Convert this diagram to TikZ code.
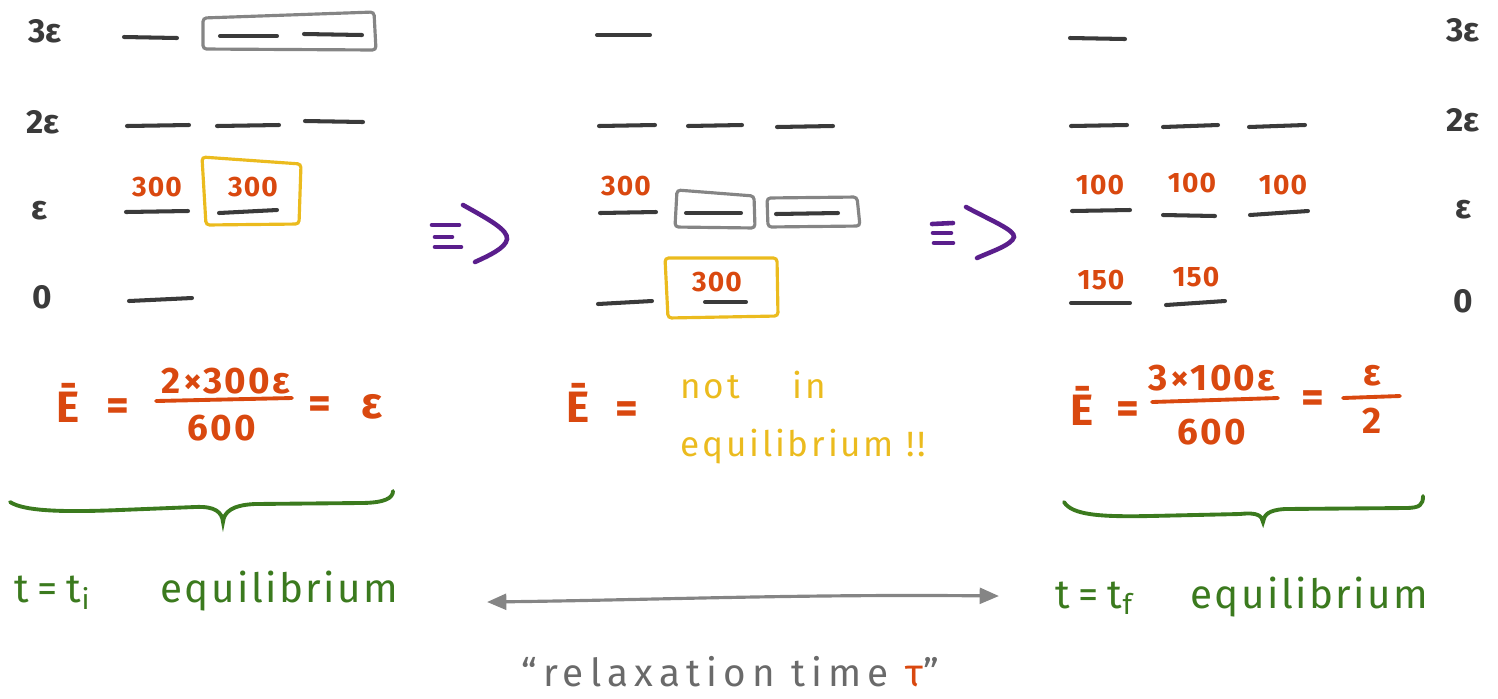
\documentclass[tikz,border=0pt]{standalone}
\usepackage{fontspec}
\setmainfont{Fira Sans}
\usetikzlibrary{arrows.meta}
\definecolor{lev}{HTML}{3A3A3A}
\definecolor{org}{HTML}{D9480F}
\definecolor{ylw}{HTML}{EBBB1E}
\definecolor{gbox}{HTML}{858585}
\definecolor{prp}{HTML}{5A1E8C}
\definecolor{grn}{HTML}{3B7A1E}
\definecolor{gtxt}{HTML}{6A6A6A}
\tikzset{
  lvl/.style={draw=lev, line width=2.3pt, line cap=round},
  graybox/.style={draw=gbox, line width=1.8pt, rounded corners=2pt},
  ylwbox/.style={draw=ylw, line width=1.8pt, rounded corners=2pt},
  lbl/.style={text=lev, font=\bfseries\fontsize{19}{21}\selectfont, inner sep=0pt},
  pop/.style={text=org, font=\bfseries\fontsize{16}{18}\selectfont\addfontfeatures{LetterSpace=4}, inner sep=0pt},
  eq/.style={text=org, font=\bfseries\fontsize{25}{28}\selectfont, inner sep=0pt},
  eqs/.style={text=org, font=\bfseries\fontsize{21}{24}\selectfont\addfontfeatures{LetterSpace=6}, inner sep=0pt},
  bar/.style={draw=org, line width=2.2pt, line cap=round},
  imp/.style={draw=prp, line width=2.6pt, line cap=round},
  brace/.style={draw=grn, line width=2.2pt, line cap=round},
  gtext/.style={text=grn, font=\fontsize{23}{27}\selectfont\addfontfeatures{LetterSpace=6}, inner sep=0pt, anchor=base west},
  ttext/.style={text=grn, font=\fontsize{23}{27}\selectfont\addfontfeatures{LetterSpace=22}, inner sep=0pt, anchor=base west},
  ytext/.style={text=ylw, font=\fontsize{20}{24}\selectfont\addfontfeatures{LetterSpace=8}, inner sep=0pt, anchor=west},
}
\begin{document}
\begin{tikzpicture}[x=0.02cm, y=-0.02cm]
\useasboundingbox (0,0) rectangle (1498,698);

% ---------- level labels ----------
\node[lbl] (l3) at (45,31) {3ε};
\node[lbl] (l2) at (43,122) {2ε};
\node[lbl] (l1) at (40,211) {ε};
\node[lbl] (l0) at (42,297) {0};
\node[lbl] (r3) at (1463,30) {3ε};
\node[lbl] (r2) at (1463,120) {2ε};
\node[lbl] (r1) at (1463,210) {ε};
\node[lbl] (r0) at (1463,301) {0};

% ---------- left panel ----------
\draw[lvl] (124,37) -- (177,38);
\draw[graybox] (203,18) -- (374,12) -- (376,50) -- (203,49) -- cycle;
\draw[lvl] (220,36) -- (277,36);
\draw[lvl] (304,34) -- (362,35);
\draw[lvl] (127,126) -- (189,125);
\draw[lvl] (217,126) -- (279,125);
\draw[lvl] (305,121) -- (363,122);
\draw[lvl] (126,212) -- (188,211);
\draw[lvl] (219,213) -- (277,210);
\draw[ylwbox] (202,157) -- (301,164) -- (299,224) -- (206,225) -- cycle;
\node[pop] (p1) at (157,187) {300};
\node[pop] (p2) at (253,187) {300};
\draw[lvl] (129,301) -- (192,298);

% ---------- implies arrows ----------
\draw[imp] (432,225) -- (459,225);
\draw[imp] (435,237) -- (452,237);
\draw[imp] (435,247) -- (461,247);
\draw[imp] (463,205) .. controls (490,220) and (508,230) .. (507,239) .. controls (506,248) and (488,256) .. (475,262);
\draw[imp] (932,224) -- (953,223);
\draw[imp] (933,233) -- (951,233);
\draw[imp] (934,243) -- (953,243);
\draw[imp] (966,207) .. controls (990,220) and (1015,230) .. (1014,237) .. controls (1012,245) and (990,252) .. (977,258);

% ---------- middle panel ----------
\draw[lvl] (597,35) -- (650,35);
\draw[lvl] (599,126) -- (655,125);
\draw[lvl] (688,126) -- (742,125);
\draw[lvl] (777,127) -- (833,126);
\node[pop] (p3) at (626,186) {300};
\draw[lvl] (600,213) -- (656,212);
\draw[graybox] (677,190) -- (754,196) -- (755,228) -- (675,227) -- cycle;
\draw[lvl] (686,213) -- (741,213);
\draw[graybox] (767,198) -- (857,197) -- (860,226) -- (768,227) -- cycle;
\draw[lvl] (776,214) -- (838,213);
\draw[lvl] (598,304) -- (652,301);
\draw[ylwbox] (665,258) -- (777,258) -- (778,316) -- (668,318) -- cycle;
\node[pop] (p4) at (717,282) {300};
\draw[lvl] (705,302) -- (746,302);

% ---------- right panel ----------
\draw[lvl] (1070,38) -- (1125,39);
\draw[lvl] (1071,126) -- (1127,125);
\draw[lvl] (1163,127) -- (1218,125);
\draw[lvl] (1249,127) -- (1305,125);
\node[pop] (p5) at (1100,185) {100};
\node[pop] (p6) at (1192,183) {100};
\node[pop] (p7) at (1283,185) {100};
\draw[lvl] (1072,211) -- (1130,210);
\draw[lvl] (1163,215) -- (1215,216);
\draw[lvl] (1250,215) -- (1308,211);
\node[pop] (p8) at (1101,280) {150};
\node[pop] (p9) at (1196,277) {150};
\draw[lvl] (1071,303) -- (1130,303);
\draw[lvl] (1166,305) -- (1225,301);

% ---------- equations ----------
\node[eq] (e1) at (68,403) {Ē};
\node[eq] (q1) at (118,410) {=};
\node[eqs] (n1) at (226,381) {2×300ε};
\draw[bar] (156,401) -- (292,398);
\node[eqs] (d1) at (222,428) {600};
\node[eq] (q2) at (320,408) {=};
\node[eq] (v1) at (372,407) {ε};

\node[eq] (e2) at (578,403) {Ē};
\node[eq] (q3) at (627,413) {=};
\node[ytext] (y1) at (680,385) {not\hspace{1.5em}in};
\node[ytext] (y2) at (680,447) {equilibrium !!};

\node[eq] (e3) at (1082,406) {Ē};
\node[eq] (q4) at (1128,413) {=};
\node[eqs] (n3) at (1212,378) {3×100ε};
\draw[bar] (1152,402) -- (1278,398);
\node[eqs] (d3) at (1212,432) {600};
\node[eq] (q5) at (1313,402) {=};
\node[eqs] (n4) at (1372,376) {ε};
\draw[bar] (1343,398) -- (1400,396);
\node[eqs] (d4) at (1372,421) {2};

% ---------- braces ----------
\draw[brace] (10,502) .. controls (25,512) and (70,512) .. (120,510)
  -- (195,507) .. controls (215,506) and (222,512) .. (223,522)
  .. controls (224,512) and (232,505) .. (255,504)
  -- (360,503) .. controls (385,503) and (393,498) .. (393,491);
\draw[brace] (1064,502) .. controls (1072,515) and (1100,517) .. (1150,516)
  -- (1240,514) .. controls (1258,512) and (1262,516) .. (1263,522)
  .. controls (1264,515) and (1268,510) .. (1285,509)
  -- (1405,508) .. controls (1420,508) and (1423,505) .. (1423,496);

% ---------- green labels ----------
\node[ttext] (g1a) at (14,602) {t=t\textsubscript{i}};
\node[gtext] (g1b) at (160,602) {equilibrium};
\node[ttext] (g2a) at (1055,608) {t=t\textsubscript{f}};
\node[gtext] (g2b) at (1190,608) {equilibrium};

% ---------- relaxation arrow ----------
\coordinate (a1) at (487,602);
\coordinate (a2) at (999,596);
\draw[draw=gbox, line width=1.8pt, {Triangle[length=11pt,width=9pt]}-{Triangle[length=11pt,width=9pt]}]
  (a1) .. controls (650,600) and (800,594) .. (a2);
\node[text=gtxt, font=\fontsize{22}{26}\selectfont\addfontfeatures{LetterSpace=16}, inner sep=0pt] (rt) at (730,672) {“relaxation time \textcolor{org}{τ}”};
\end{tikzpicture}
\end{document}
